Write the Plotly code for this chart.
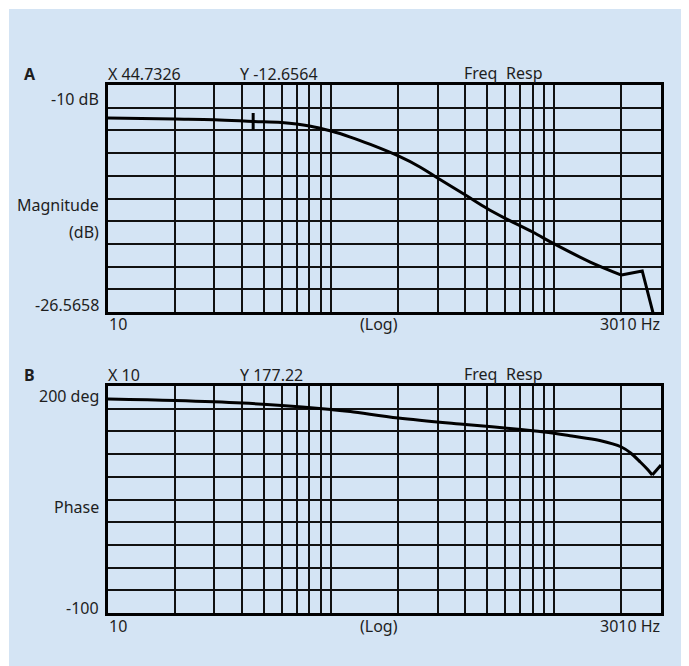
import numpy as np
import plotly.graph_objects as go

# magnitude curve (panel A)
mag_freq = [10, 20, 30, 44.7326, 60, 80, 100, 122, 150, 200, 250, 300, 400, 500,
            600, 800, 1000, 1450, 2000, 2480, 2800]
mag_db = [-12.41, -12.48, -12.53, -12.6564, -12.74, -12.99, -13.36, -13.8, -14.34,
          -15.18, -15.98, -16.79, -18.03, -19.01, -19.71, -20.73, -21.6, -22.92,
          -23.87, -23.57, -26.9]

# phase curve (panel B)
ph_freq = [10, 20, 40, 60, 100, 122, 200, 400, 600, 900, 1200, 1600, 2000, 2200,
           2430, 2610, 2750, 3010]
ph_deg = [182.8, 180.8, 177.5, 174.2, 168.9, 166.3, 157.7, 149.1, 144.5, 139.2,
          133.9, 128.0, 119.4, 111.5, 99.6, 90.3, 82.4, 95.6]

cursor_x = 44.7326
cursor_y = -12.6564

grid_freqs = [10, 20, 30, 40, 50, 60, 70, 80, 90, 100, 200, 300, 400, 500, 600,
              700, 800, 900, 1000, 2000, 3000]

# page body adds an 8px margin, so the figure is drawn from (8, 8)
OFF = 8
W, H = 689 - OFF, 666 - OFF
BG = "#d4e4f4"
FONT = "Noto Sans"
TXT = "#1e1e1e"

def px(x):
    return (x - OFF) / W

def py(y):
    return 1 - (y - OFF) / H

fig = go.Figure()

# smooth part of each curve, then the sharp-cornered tail
mag_knee = mag_freq.index(2000)
ph_knee = ph_freq.index(2750)
for xs, ys, ax, shape in [
    (mag_freq[:mag_knee + 1], mag_db[:mag_knee + 1], "", "spline"),
    (mag_freq[mag_knee:], mag_db[mag_knee:], "", "linear"),
    (ph_freq[:ph_knee + 1], ph_deg[:ph_knee + 1], "2", "spline"),
    (ph_freq[ph_knee:], ph_deg[ph_knee:], "2", "linear"),
]:
    fig.add_trace(go.Scatter(x=xs, y=ys, mode="lines",
                             line=dict(color="black", width=3, shape=shape, smoothing=1),
                             xaxis="x" + ax, yaxis="y" + ax))

fig.add_trace(go.Scatter(x=[cursor_x], y=[cursor_y], mode="markers",
                         marker=dict(symbol="line-ns", size=12,
                                     line=dict(color="black", width=3)),
                         xaxis="x", yaxis="y"))

xcommon = dict(type="log", range=[1, np.log10(3010)], tickvals=grid_freqs,
               showticklabels=False, ticks="", showgrid=True, gridcolor="#111",
               gridwidth=1.5, showline=True, linecolor="black", linewidth=2.5,
               mirror=True, zeroline=False, domain=[px(108), px(661)])
ycommon = dict(showticklabels=False, ticks="", showgrid=True, gridcolor="#111",
               gridwidth=1.5, showline=True, linecolor="black", linewidth=2.5,
               mirror=True, zeroline=False)

fig.update_layout(
    width=W, height=H, margin=dict(l=0, r=0, t=0, b=0),
    paper_bgcolor="white", plot_bgcolor=BG, showlegend=False,
    font=dict(family=FONT, size=16, color=TXT),
    xaxis=dict(xcommon, anchor="y"),
    xaxis2=dict(xcommon, anchor="y2"),
    yaxis=dict(ycommon, range=[-26.5658, -10],
               tickvals=list(np.linspace(-26.5658, -10, 11)),
               domain=[py(312), py(85)], anchor="x"),
    yaxis2=dict(ycommon, range=[-100, 200], tickvals=list(range(-100, 201, 30)),
                domain=[py(613), py(386)], anchor="x2"),
)

fig.add_shape(type="rect", xref="paper", yref="paper", x0=px(9), x1=1, y0=0, y1=py(9),
              fillcolor=BG, line_width=0, layer="below")

def label(text, x, y, anchor="left", bold=False):
    if bold:
        text = "<b>" + text + "</b>"
    fig.add_annotation(text=text, x=px(x), y=py(y), xref="paper", yref="paper",
                       xanchor=anchor, yanchor="middle", showarrow=False)

# panel A texts
label("A", 22, 74, bold=True)
label("X 44.7326", 106, 74)
label("Y -12.6564", 238, 74)
label("Freq", 462, 73)
label("Resp", 504, 73)
label("-10 dB", 101, 99, "right")
label("Magnitude", 101, 205, "right")
label("(dB)", 101, 232, "right")
label("-26.5658", 101, 305, "right")
label("10", 107, 324)
label("(Log)", 379, 324, "center")
label("3010 Hz", 662, 324, "right")

# panel B texts
label("B", 22, 375, bold=True)
label("X 10", 106, 375)
label("Y 177.22", 238, 375)
label("Freq", 462, 374)
label("Resp", 504, 374)
label("200 deg", 101, 396, "right")
label("Phase", 101, 507, "right")
label("-100", 101, 608, "right")
label("10", 107, 626)
label("(Log)", 379, 626, "center")
label("3010 Hz", 662, 626, "right")

fig.write_html("out.html")
